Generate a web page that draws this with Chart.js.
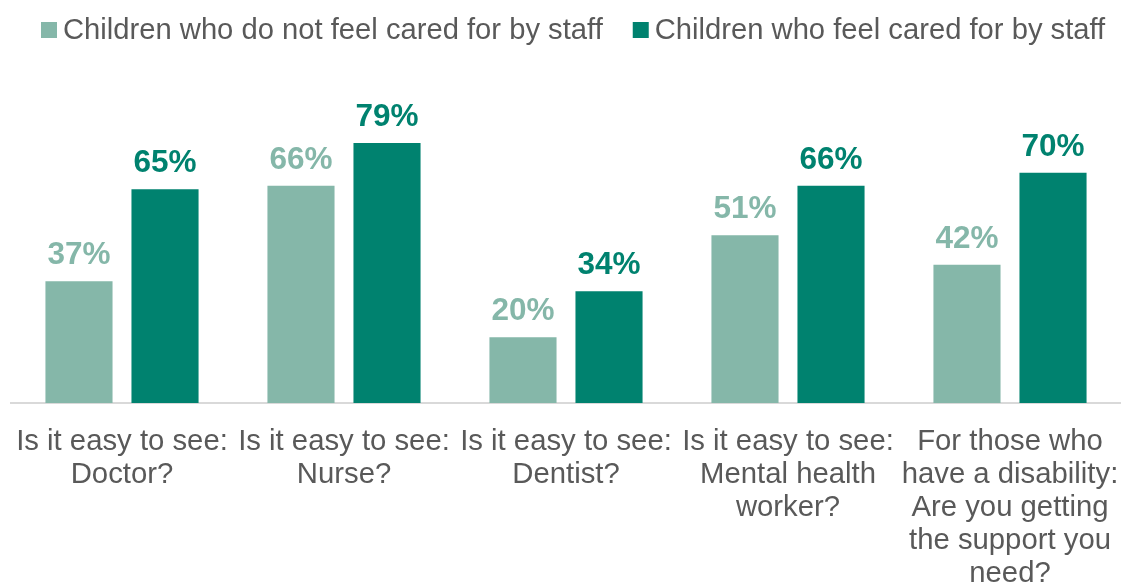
<!DOCTYPE html>
<html>
<head>
<meta charset="utf-8">
<script src="https://cdn.jsdelivr.net/npm/chart.js@4.4.1/dist/chart.umd.min.js"></script>
<style>
  html, body { margin: 0; padding: 0; background: #ffffff; }
  #wrap { width: 1121px; height: 585px; position: relative; }
</style>
</head>
<body>
<div id="wrap"><canvas id="chart" width="1121" height="585"></canvas></div>
<script>
// Categories (multi-line axis labels)
const categories = [
  ["Is it easy to see:", "Doctor?"],
  ["Is it easy to see:", "Nurse?"],
  ["Is it easy to see:", "Dentist?"],
  ["Is it easy to see:", "Mental health", "worker?"],
  ["For those who", "have a disability:", "Are you getting", "the support you", "need?"]
];

// Series names
const seriesNames = [
  "Children who do not feel cared for by staff",
  "Children who feel cared for by staff"
];

// Percentages per category
const notCaredFor = [37, 66, 20, 51, 42];
const caredFor = [65, 79, 34, 66, 70];

const colLight = "#85B7A9";
const colDark = "#00826F";
const textGrey = "#595959";
const fontFamily = "'Liberation Sans', Arial, sans-serif";

// Value labels above each bar
const valueLabels = {
  id: "valueLabels",
  afterDatasetsDraw(chart) {
    const ctx = chart.ctx;
    ctx.save();
    ctx.font = "bold 31.5px " + fontFamily;
    ctx.textAlign = "center";
    ctx.textBaseline = "alphabetic";
    chart.data.datasets.forEach((ds, di) => {
      const meta = chart.getDatasetMeta(di);
      meta.data.forEach((bar, i) => {
        ctx.fillStyle = ds.backgroundColor;
        ctx.fillText(ds.data[i] + "%", bar.x, bar.y - 17);
      });
    });
    ctx.restore();
  }
};

// Legend row across the top
const topLegend = {
  id: "topLegend",
  afterDraw(chart) {
    const ctx = chart.ctx;
    ctx.save();
    ctx.font = "29.2px " + fontFamily;
    ctx.textBaseline = "middle";
    ctx.textAlign = "left";
    let x = 41;
    const cy = 30;
    chart.data.datasets.forEach((ds) => {
      ctx.fillStyle = ds.backgroundColor;
      ctx.fillRect(x, cy - 8, 16, 16);
      x += 16 + 6;
      ctx.fillStyle = textGrey;
      ctx.fillText(ds.label, x, cy + 1);
      x += ctx.measureText(ds.label).width + 30;
    });
    ctx.restore();
  }
};

new Chart(document.getElementById("chart"), {
  type: "bar",
  data: {
    labels: categories,
    datasets: [
      { label: seriesNames[0], data: notCaredFor, backgroundColor: colLight },
      { label: seriesNames[1], data: caredFor, backgroundColor: colDark }
    ]
  },
  options: {
    responsive: false,
    animation: false,
    devicePixelRatio: 1,
    layout: { padding: { top: 74, left: 11, right: 0, bottom: 0 } },
    datasets: {
      bar: { categoryPercentage: 0.775, barPercentage: 0.78 }
    },
    plugins: {
      legend: { display: false },
      tooltip: { enabled: false }
    },
    scales: {
      x: {
        grid: { display: false, drawTicks: false },
        border: { display: true, color: "#D9D9D9", width: 2 },
        ticks: {
          color: textGrey,
          font: { family: fontFamily, size: 29.3, lineHeight: 1.13 },
          padding: 22,
          maxRotation: 0,
          autoSkip: false
        },
        afterFit(scale) {
          scale.height = 182;
          scale.paddingLeft = 0;
          scale.paddingRight = 0;
        }
      },
      y: {
        display: false,
        min: 0,
        max: 100
      }
    }
  },
  plugins: [valueLabels, topLegend]
});
</script>
</body>
</html>
